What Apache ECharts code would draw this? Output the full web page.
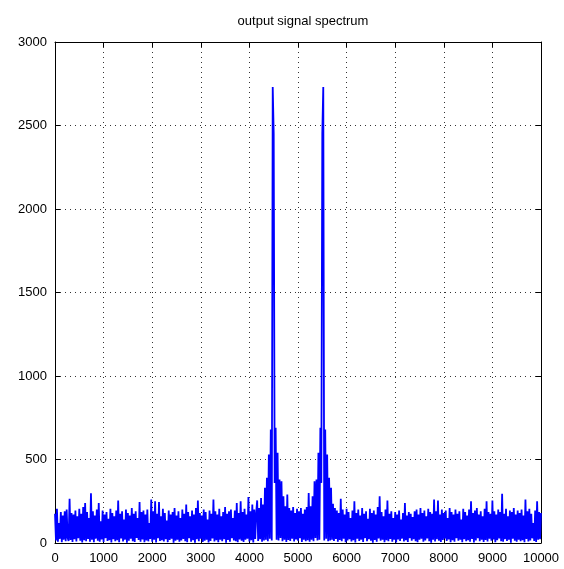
<!DOCTYPE html>
<html>
<head>
<meta charset="utf-8">
<title>output signal spectrum</title>
<script src="https://cdn.jsdelivr.net/npm/echarts@6/dist/echarts.min.js"></script>
<style>
html,body{margin:0;padding:0;background:#fff;}
#chart1{width:564px;height:569px;}
</style>
</head>
<body>
<div id="chart1"></div>
<script>
// 频率间隔 (每个点之间的 x 距离)
var freqStep = 20;
var xTicks = [0, 1000, 2000, 3000, 4000, 5000, 6000, 7000, 8000, 9000, 10000];
var yTicks = [0, 500, 1000, 1500, 2000, 2500, 3000];
// 幅度, 从图上读出来的, x = 0, 20, 40 ... 10000
var amplitude = [
    175, 15, 205, 8, 120, 25, 185, 5, 165, 20,
    190, 10, 200, 30, 12, 265, 18, 180, 6, 170,
    22, 195, 9, 160, 28, 205, 14, 175, 3, 215,
    17, 240, 11, 185, 24, 150, 7, 298, 19, 190,
    4, 165, 26, 200, 13, 240, 8, 130, 21, 195,
    6, 170, 29, 185, 12, 145, 17, 205, 3, 180,
    23, 160, 10, 195, 16, 255, 5, 175, 27, 190,
    9, 140, 20, 200, 2, 180, 14, 165, 25, 210,
    11, 175, 6, 190, 30, 150, 18, 245, 8, 185,
    21, 195, 4, 170, 15, 200, 10, 120, 24, 260,
    7, 190, 19, 250, 3, 175, 28, 245, 12, 160,
    16, 205, 9, 180, 22, 135, 5, 195, 18, 170,
    26, 185, 2, 210, 13, 165, 20, 190, 7, 150,
    15, 200, 24, 175, 10, 230, 4, 185, 29, 160,
    8, 195, 17, 170, 1, 210, 22, 255, 11, 180,
    25, 165, 6, 200, 14, 185, 19, 140, 3, 195,
    12, 175, 27, 260, 9, 190, 16, 170, 5, 205,
    20, 160, 11, 185, 23, 215, 2, 175, 18, 190,
    7, 200, 28, 150, 15, 195, 10, 240, 4, 180,
    21, 250, 13, 185, 6, 205, 19, 170, 26, 275,
    9, 190, 17, 230, 3, 200, 24, 180, 255, 12,
    210, 22, 270, 8, 230, 15, 330, 20, 390, 10,
    530, 25, 680, 15, 2730, 2450, 360, 690, 20, 540,
    15, 380, 30, 370, 10, 280, 20, 220, 6, 290,
    18, 210, 12, 195, 25, 215, 9, 180, 21, 205,
    14, 190, 28, 210, 6, 175, 19, 200, 11, 215,
    16, 300, 8, 220, 20, 280, 10, 370, 30, 380,
    15, 540, 20, 690, 360, 2450, 2730, 15, 680, 25,
    530, 10, 390, 15, 330, 20, 235, 12, 210, 24,
    195, 7, 180, 18, 265, 11, 200, 26, 170, 4,
    205, 15, 185, 22, 150, 9, 195, 17, 250, 3,
    180, 25, 200, 12, 165, 20, 210, 6, 175, 29,
    190, 10, 145, 23, 205, 14, 180, 2, 195, 18,
    170, 8, 215, 27, 280, 13, 185, 20, 160, 5,
    200, 16, 255, 11, 175, 24, 190, 7, 150, 19,
    185, 3, 170, 21, 195, 12, 140, 26, 180, 9,
    240, 17, 165, 6, 185, 28, 175, 14, 155, 22,
    190, 10, 200, 4, 170, 19, 210, 25, 180, 8,
    195, 15, 160, 27, 205, 11, 185, 2, 175, 20,
    260, 9, 190, 23, 255, 14, 170, 6, 200, 18,
    180, 26, 195, 12, 150, 21, 210, 5, 185, 16,
    170, 8, 200, 29, 175, 13, 190, 19, 140, 4,
    205, 22, 185, 10, 165, 17, 200, 7, 250, 24,
    180, 3, 195, 15, 210, 28, 170, 11, 190, 20,
    160, 6, 205, 18, 250, 9, 185, 25, 175, 13,
    255, 21, 190, 4, 170, 16, 200, 27, 185, 10,
    295, 8, 175, 23, 205, 12, 160, 19, 195, 2,
    185, 26, 210, 14, 170, 7, 195, 20, 180, 11,
    200, 17, 165, 5, 260, 24, 190, 9, 205, 15,
    175, 28, 120, 12, 195, 6, 250, 19, 185, 22,
    180
];

var font = 'Liberation Sans';
var seriesData = amplitude.map(function (v, i) { return [i * freqStep, v]; });

// 网格线 (点线)
var dotLine = { show: true, lineStyle: { color: '#000', width: 1, type: [1, 4], opacity: 0.8 } };
// 刻度值不要千分位
var plain = function (v) { return String(v); };

var chart1 = echarts.init(document.getElementById('chart1'), null, { renderer: 'canvas' });
var option = {
    animation: false,
    backgroundColor: '#fff',
    title: {
        text: 'output signal spectrum',
        left: 298, top: 10, textAlign: 'center',
        textStyle: { fontFamily: font, fontSize: 13, fontWeight: 'normal', color: '#000' }
    },
    grid: { left: 55, right: 23, top: 42, bottom: 26 },
    xAxis: [{
        type: 'value',
        min: xTicks[0], max: xTicks[xTicks.length - 1], interval: 1000,
        axisLine: { onZero: false, lineStyle: { color: '#000' } },
        axisTick: { inside: true, length: 5, lineStyle: { color: '#000' } },
        axisLabel: { margin: 9, color: '#000', fontFamily: font, fontSize: 13, formatter: plain },
        splitLine: dotLine
    }, {
        type: 'value', position: 'top',
        min: xTicks[0], max: xTicks[xTicks.length - 1], interval: 1000,
        axisLine: { show: true, onZero: false, lineStyle: { color: '#000' } },
        axisTick: { show: true, inside: true, length: 5, lineStyle: { color: '#000' } },
        axisLabel: { show: false },
        splitLine: { show: false }
    }],
    yAxis: [{
        type: 'value',
        min: yTicks[0], max: yTicks[yTicks.length - 1], interval: 500,
        axisLine: { show: true, onZero: false, lineStyle: { color: '#000' } },
        axisTick: { show: true, inside: true, length: 5, lineStyle: { color: '#000' } },
        axisLabel: { margin: 8, color: '#000', fontFamily: font, fontSize: 13, formatter: plain },
        splitLine: dotLine
    }, {
        type: 'value', position: 'right',
        min: yTicks[0], max: yTicks[yTicks.length - 1], interval: 500,
        axisLine: { show: true, onZero: false, lineStyle: { color: '#000' } },
        axisTick: { show: true, inside: true, length: 5, lineStyle: { color: '#000' } },
        axisLabel: { show: false },
        splitLine: { show: false }
    }],
    series: [{
        name: 'spectrum',
        type: 'line',
        xAxisIndex: 0, yAxisIndex: 0,
        showSymbol: false,
        symbol: 'none',
        sampling: null,
        lineStyle: { color: '#0000ff', width: 1.8 },
        data: seriesData
    }]
};
chart1.setOption(option);
</script>
</body>
</html>
